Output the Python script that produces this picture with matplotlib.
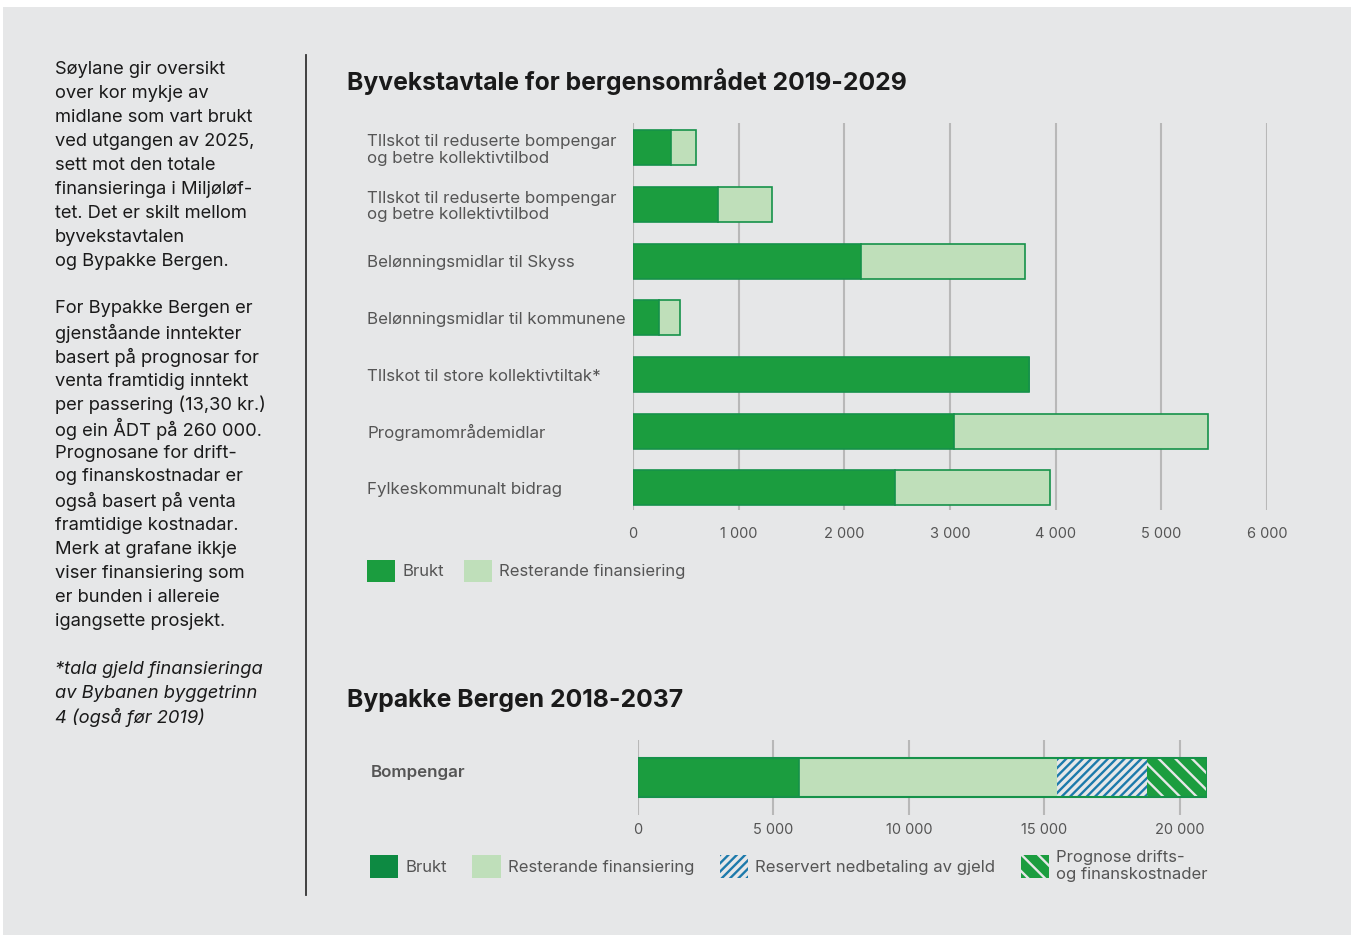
import matplotlib.pyplot as plt
from matplotlib.patches import Patch, Rectangle
from matplotlib.lines import Line2D
from matplotlib.ticker import FuncFormatter

plt.rcParams['font.family'] = ['Inter', 'DejaVu Sans']
plt.rcParams['hatch.linewidth'] = 1.7

# --- data (mill. kr) ---
poster = ['TIlskot til reduserte bompengar\nog betre kollektivtilbod',
          'TIlskot til reduserte bompengar\nog betre kollektivtilbod',
          'Belønningsmidlar til Skyss',
          'Belønningsmidlar til kommunene',
          'TIlskot til store kollektivtiltak*',
          'Programområdemidlar',
          'Fylkeskommunalt bidrag']
brukt = [360, 805, 2155, 245, 3745, 3035, 2480]
totalt = [595, 1315, 3710, 445, 3745, 5440, 3945]
resterande = [t - b for t, b in zip(totalt, brukt)]

bypakke_label = ['Bompengar']
bp_brukt = [5950]
bp_resterande = [9500]
bp_gjeld = [3350]
bp_drift = [2200]

top_ticks = [0, 1000, 2000, 3000, 4000, 5000, 6000]
bot_ticks = [0, 5000, 10000, 15000, 20000]

venstre_tekst = ['Søylane gir oversikt', 'over kor mykje av', 'midlane som vart brukt',
                 'ved utgangen av 2025,', 'sett mot den totale', 'finansieringa i Miljøløf-',
                 'tet. Det er skilt mellom', 'byvekstavtalen', 'og Bypakke Bergen.', '',
                 'For Bypakke Bergen er', 'gjenståande inntekter', 'basert på prognosar for',
                 'venta framtidig inntekt', 'per passering (13,30 kr.)', 'og ein ÅDT på 260 000.',
                 'Prognosane for drift-', 'og finanskostnadar er', 'også basert på venta',
                 'framtidige kostnadar.', 'Merk at grafane ikkje', 'viser finansiering som',
                 'er bunden i allereie', 'igangsette prosjekt.', '']
fotnote = ['*tala gjeld finansieringa', 'av Bybanen byggetrinn', '4 (også før 2019)']

# farger
bg = '#e6e7e8'
dark = '#1b9d3f'
dark2 = '#0d8a42'
light = '#bfdfba'
edge = '#16924a'
blue = '#1c7aab'
txt = '#555555'
ink = '#1a1a1a'
gridc = '#b8b8b8'

W, H = 1358, 936
fig = plt.figure(figsize=(W / 100, H / 100), dpi=100)
fig.patch.set_facecolor('white')
fig.add_artist(Rectangle((3 / W, 1 - 935 / H), 1348 / W, 928 / H,
                         transform=fig.transFigure, facecolor=bg, edgecolor='none', zorder=-10))


def box(l, t, r, b):
    return [l / W, 1 - b / H, (r - l) / W, (b - t) / H]


def fmt(v, pos):
    return f'{int(v):,}'.replace(',', ' ')


# venstre tekst
for i, line in enumerate(venstre_tekst):
    fig.text(55 / W, 1 - (69 + 24 * i) / H, line, fontsize=13.2, color=ink, va='center')
for i, line in enumerate(fotnote):
    fig.text(55 / W, 1 - (669 + 24 * i) / H, line, fontsize=13.2, color=ink, va='center',
             style='italic')
fig.add_artist(Line2D([306 / W, 306 / W], [1 - 55 / H, 1 - 895 / H], color='#333333', lw=1.3))

# --- Byvekstavtale ---
ax1 = fig.add_axes(box(633, 123, 1267, 510))
ax1.set_facecolor('none')
y = list(range(len(poster)))
ax1.barh(y, brukt, height=0.62, color=dark, edgecolor=edge, lw=1.2)
ax1.barh(y, resterande, left=brukt, height=0.62, color=light, edgecolor=edge, lw=1.2)
ax1.set_xlim(0, 6000)
ax1.set_ylim(6.39, -0.44)
ax1.set_xticks(top_ticks)
ax1.xaxis.set_major_formatter(FuncFormatter(fmt))
ax1.grid(axis='x', color=gridc, lw=1.5)
ax1.set_axisbelow(True)
for s in ax1.spines.values():
    s.set_visible(False)
ax1.tick_params(axis='x', length=0, pad=12, labelsize=10.5, labelcolor=txt)
ax1.set_yticks(y, poster)
ax1.tick_params(axis='y', length=0, pad=(633 - 367) * 0.72, labelsize=12.2, labelcolor=txt)
for lab in ax1.get_yticklabels():
    lab.set_ha('left')
    lab.set_linespacing(1.1)

fig.text(347 / W, 1 - 82 / H, 'Byvekstavtale for bergensområdet 2019-2029',
         fontsize=17.8, weight='bold', color=ink, va='center')

ax1.legend(handles=[Patch(facecolor=dark, edgecolor='none'), Patch(facecolor=light, edgecolor='none')],
           labels=['Brukt', 'Resterande finansiering'],
           loc='center left', bbox_to_anchor=(367 / W, 1 - 571 / H), bbox_transform=fig.transFigure,
           ncol=2, frameon=False, fontsize=12, handlelength=1.7, handleheight=1.7,
           handletextpad=0.4, columnspacing=1.2, borderpad=0, borderaxespad=0, labelcolor=txt)

# --- Bypakke Bergen ---
ax2 = fig.add_axes(box(638, 740, 1207, 815))
ax2.set_facecolor('none')
yb = [0]
ax2.barh(yb, bp_brukt, height=0.52, color=dark, lw=0)
ax2.barh(yb, bp_resterande, left=bp_brukt, height=0.52, color=light, lw=0)
l2 = [a + b for a, b in zip(bp_brukt, bp_resterande)]
ax2.barh(yb, bp_gjeld, left=l2, height=0.52, color=bg, edgecolor=blue, hatch='////', lw=0)
l3 = [a + b for a, b in zip(l2, bp_gjeld)]
ax2.barh(yb, bp_drift, left=l3, height=0.52, color=dark, edgecolor=bg, hatch='\\\\', lw=0)
tot = [a + b for a, b in zip(l3, bp_drift)]
ax2.barh(yb, tot, height=0.52, fill=False, edgecolor=edge, lw=1.5)
ax2.barh(yb, bp_brukt, height=0.52, fill=False, edgecolor=edge, lw=1.2)
ax2.set_xlim(0, 21000)
ax2.set_ylim(0.5, -0.5)
ax2.set_xticks(bot_ticks)
ax2.xaxis.set_major_formatter(FuncFormatter(fmt))
ax2.grid(axis='x', color=gridc, lw=1.5)
ax2.set_axisbelow(True)
for s in ax2.spines.values():
    s.set_visible(False)
ax2.tick_params(axis='x', length=0, pad=6, labelsize=10.5, labelcolor=txt)
# etiketten står litt over midten av søyla
ax2.set_yticks([-0.08], bypakke_label)
ax2.tick_params(axis='y', length=0, pad=(638 - 371) * 0.72, labelsize=12.2, labelcolor=txt)
for lab in ax2.get_yticklabels():
    lab.set_ha('left')
    lab.set_weight('semibold')

fig.text(347 / W, 1 - 701 / H, 'Bypakke Bergen 2018-2037',
         fontsize=17.8, weight='bold', color=ink, va='center')

ax2.legend(handles=[Patch(facecolor=dark2, edgecolor='none'),
                    Patch(facecolor=light, edgecolor='none'),
                    Patch(facecolor=bg, edgecolor=blue, hatch='////', lw=0),
                    Patch(facecolor=dark, edgecolor=bg, hatch='\\\\', lw=0)],
           labels=['Brukt', 'Resterande finansiering', 'Reservert nedbetaling av gjeld',
                   'Prognose drifts-\nog finanskostnader'],
           loc='center left', bbox_to_anchor=(370 / W, 1 - 866 / H), bbox_transform=fig.transFigure,
           ncol=4, frameon=False, fontsize=12, handlelength=1.7, handleheight=1.7,
           handletextpad=0.45, columnspacing=1.5, borderpad=0, borderaxespad=0, labelcolor=txt)

fig.savefig('out.png', dpi=100, facecolor=fig.get_facecolor())
